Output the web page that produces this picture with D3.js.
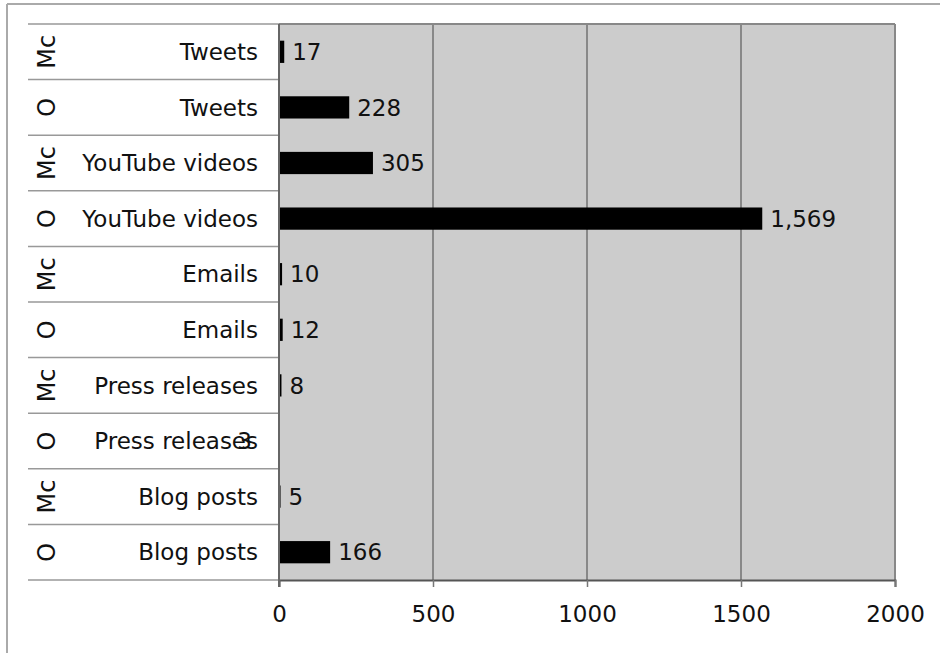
<!DOCTYPE html>
<html>
<head>
<meta charset="utf-8">
<script src="https://cdn.jsdelivr.net/npm/d3@7"></script>
<style>
body { margin: 0; background: #fff; }
text { font-family: "DejaVu Sans", Verdana, sans-serif; fill: #111; }
</style>
</head>
<body>
<svg id="chart" width="940" height="653"></svg>
<script>
// rows top to bottom
var categories = ["Tweets", "Tweets", "YouTube videos", "YouTube videos", "Emails", "Emails",
                  "Press releases", "Press releases", "Blog posts", "Blog posts"];
var groups = ["Mc", "O", "Mc", "O", "Mc", "O", "Mc", "O", "Mc", "O"];
var values = [17, 228, 305, 1569, 10, 12, 8, 3, 5, 166];
var xTicks = [0, 500, 1000, 1500, 2000];

var svg = d3.select("#chart"),
    margin = {top: 24, right: 45, bottom: 73, left: 279},
    width = +svg.attr("width") - margin.left - margin.right,
    height = +svg.attr("height") - margin.top - margin.bottom;

// outer frame
svg.append("line").attr("x1", 7).attr("x2", 940).attr("y1", 4).attr("y2", 4)
    .attr("stroke", "#aaa").attr("stroke-width", 2);
svg.append("line").attr("x1", 7).attr("x2", 7).attr("y1", 4).attr("y2", 653)
    .attr("stroke", "#aaa").attr("stroke-width", 2);

var g = svg.append("g").attr("transform", "translate(" + margin.left + "," + margin.top + ")");

var x = d3.scaleLinear().domain([0, 2000]).range([0, width]);
var y = d3.scaleBand().domain(d3.range(values.length)).range([0, height]).padding(0);

// plot background
g.append("rect").attr("width", width).attr("height", height).attr("fill", "#cccccc");

// grid
g.selectAll(".grid").data(xTicks.slice(1))
  .enter().append("line")
    .attr("x1", function(d) { return x(d); })
    .attr("x2", function(d) { return x(d); })
    .attr("y1", 0).attr("y2", height)
    .attr("stroke", "#888").attr("stroke-width", 2);

g.append("line").attr("x1", 0).attr("x2", width).attr("y1", 0).attr("y2", 0)
    .attr("stroke", "#888").attr("stroke-width", 2);

// row separators on the label side
g.selectAll(".sep").data(d3.range(values.length + 1))
  .enter().append("line")
    .attr("x1", 28 - margin.left).attr("x2", 0)
    .attr("y1", function(i) { return i * y.step(); })
    .attr("y2", function(i) { return i * y.step(); })
    .attr("stroke", "#999").attr("stroke-width", 1.5);

// bars
var barH = y.bandwidth() * 0.4;
g.selectAll(".bar").data(values)
  .enter().append("rect")
    .attr("x", x(0))
    .attr("y", function(d, i) { return y(i) + (y.bandwidth() - barH) / 2; })
    .attr("width", function(d) { return Math.max(1, x(d) - x(0)); })
    .attr("height", barH)
    .attr("fill", "#000");

// value labels (the tiny one ends up over the category name, as in the source)
g.selectAll(".val").data(values)
  .enter().append("text")
    .attr("x", function(d) { return d < 4 ? -27 : x(d) + 8; })
    .attr("y", function(d, i) { return y(i) + y.bandwidth() / 2; })
    .attr("dy", "0.36em")
    .attr("text-anchor", function(d) { return d < 4 ? "end" : "start"; })
    .style("font-size", "23px")
    .text(d3.format(","));

// category labels
g.selectAll(".cat").data(categories)
  .enter().append("text")
    .attr("x", -21)
    .attr("y", function(d, i) { return y(i) + y.bandwidth() / 2; })
    .attr("dy", "0.36em")
    .attr("text-anchor", "end")
    .style("font-size", "23px")
    .text(function(d) { return d; });

// group labels, rotated
g.selectAll(".grp").data(groups)
  .enter().append("text")
    .attr("transform", function(d, i) {
        return "translate(" + (46 - margin.left) + "," + (y(i) + y.bandwidth() / 2) + ") rotate(-90)";
    })
    .attr("dy", "0.36em")
    .attr("text-anchor", "middle")
    .style("font-size", "24px")
    .text(function(d) { return d; });

// x axis
var xAxis = g.append("g")
    .attr("transform", "translate(0," + height + ")")
    .call(d3.axisBottom(x).tickValues(xTicks).tickSize(7).tickPadding(19).tickFormat(d3.format("d")));
xAxis.select(".domain").attr("stroke", "#555").attr("stroke-width", 2);
xAxis.selectAll(".tick line").attr("stroke", "#777").attr("stroke-width", 1.5);
xAxis.selectAll(".tick text").style("font-size", "23px")
    .style("font-family", "'DejaVu Sans', Verdana, sans-serif").attr("fill", "#111");

// left edge of plot
g.append("line").attr("x1", 0).attr("x2", 0).attr("y1", 0).attr("y2", height + 7)
    .attr("stroke", "#666").attr("stroke-width", 2);
</script>
</body>
</html>
